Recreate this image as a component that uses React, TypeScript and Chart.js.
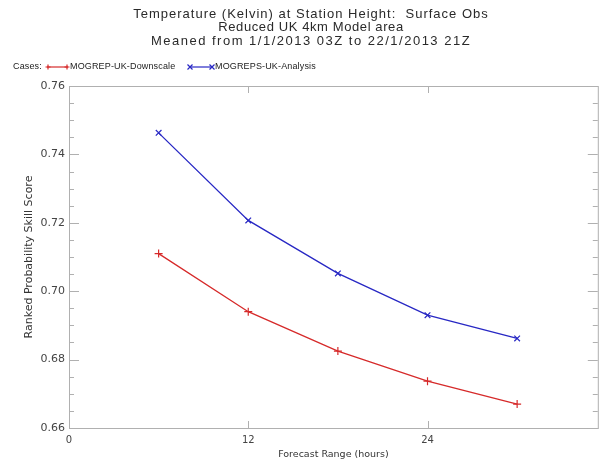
import React, { useEffect, useRef } from "react";
import { Chart, registerables } from "chart.js";

Chart.register(...registerables);

const forecastHours = [6, 12, 18, 24, 30];
const downscaleScores = [0.711, 0.694, 0.6825, 0.6737, 0.667];
const analysisScores = [0.7463, 0.7207, 0.7052, 0.693, 0.6862];
const seriesNames = ["MOGREP-UK-Downscale", "MOGREPS-UK-Analysis"];
const titleLines = [
  "Temperature (Kelvin) at Station Height:  Surface Obs",
  "Reduced UK 4km Model area",
  "Meaned from 1/1/2013 03Z to 22/1/2013 21Z",
];
const yTickValues = [0.66, 0.68, 0.7, 0.72, 0.74, 0.76];
const xTickValues = [0, 12, 24];

const RED = "rgb(214, 42, 42)";
const BLUE = "rgb(40, 40, 196)";
const FONT = "'Liberation Sans', Arial, sans-serif";
const WIDE = "'DejaVu Sans', sans-serif";

function drawMarker(ctx: CanvasRenderingContext2D, x: number, y: number, r: number, rot: boolean) {
  ctx.beginPath();
  if (rot) {
    ctx.moveTo(x - r, y - r);
    ctx.lineTo(x + r, y + r);
    ctx.moveTo(x - r, y + r);
    ctx.lineTo(x + r, y - r);
  } else {
    ctx.moveTo(x - r, y);
    ctx.lineTo(x + r, y);
    ctx.moveTo(x, y - r);
    ctx.lineTo(x, y + r);
  }
  ctx.stroke();
}

const decorPlugin = {
  id: "decor",
  afterDraw(chart: any) {
    const { ctx, chartArea: a, scales } = chart;
    ctx.save();
    // frame
    ctx.strokeStyle = "#b0b0b0";
    ctx.lineWidth = 1;
    ctx.strokeRect(a.left + 0.5, a.top + 0.5, a.right - a.left, a.bottom - a.top);
    // y ticks (major + minor), inward on left and right
    const ys = scales.y;
    const steps = Math.round((ys.max - ys.min) / 0.005);
    for (let i = 0; i <= steps; i++) {
      const v = ys.min + i * 0.005;
      const p = Math.round(ys.getPixelForValue(v)) + 0.5;
      const len = i % 4 === 0 ? 10 : 5;
      ctx.beginPath();
      ctx.moveTo(a.left, p);
      ctx.lineTo(a.left + len, p);
      ctx.moveTo(a.right, p);
      ctx.lineTo(a.right - len, p);
      ctx.stroke();
    }
    // x ticks inward top & bottom
    const xs = scales.x;
    for (const v of xTickValues) {
      const p = Math.round(xs.getPixelForValue(v)) + 0.5;
      ctx.beginPath();
      ctx.moveTo(p, a.bottom);
      ctx.lineTo(p, a.bottom - 7);
      ctx.moveTo(p, a.top);
      ctx.lineTo(p, a.top + 7);
      ctx.stroke();
    }
    // title
    ctx.fillStyle = "#2a2a2a";
    ctx.font = `13px ${FONT}`;
    ctx.textAlign = "center";
    ctx.textBaseline = "middle";
    const tY = [14, 27.5, 41];
    const spacing = ["1px", "0.6px", "1.5px"];
    titleLines.forEach((t, i) => {
      (ctx as any).letterSpacing = spacing[i];
      ctx.fillText(t, 311, tY[i]);
    });
    // legend
    const ly = 67;
    (ctx as any).letterSpacing = "0.15px";
    ctx.font = `9px ${FONT}`;
    ctx.textAlign = "left";
    ctx.fillStyle = "#222";
    ctx.fillText("Cases:", 13, ly);
    ctx.lineWidth = 1.2;
    ctx.strokeStyle = RED;
    ctx.beginPath();
    ctx.moveTo(47, ly);
    ctx.lineTo(68, ly);
    ctx.stroke();
    drawMarker(ctx, 48, ly, 2.5, false);
    drawMarker(ctx, 67, ly, 2.5, false);
    ctx.fillText(seriesNames[0], 70, ly);
    ctx.strokeStyle = BLUE;
    ctx.beginPath();
    ctx.moveTo(189, ly);
    ctx.lineTo(213, ly);
    ctx.stroke();
    drawMarker(ctx, 190, ly, 2.5, true);
    drawMarker(ctx, 212, ly, 2.5, true);
    ctx.fillText(seriesNames[1], 215, ly);
    ctx.restore();
  },
};

export default function App() {
  const ref = useRef<HTMLCanvasElement | null>(null);
  useEffect(() => {
    if (!ref.current) return;
    const chart = new Chart(ref.current, {
      type: "line",
      data: {
        datasets: [
          {
            label: seriesNames[0],
            data: forecastHours.map((x, i) => ({ x, y: downscaleScores[i] })),
            borderColor: RED,
            backgroundColor: RED,
            borderWidth: 1.3,
            pointStyle: "cross",
            pointRadius: 4,
            pointBorderWidth: 1.2,
            tension: 0,
          },
          {
            label: seriesNames[1],
            data: forecastHours.map((x, i) => ({ x, y: analysisScores[i] })),
            borderColor: BLUE,
            backgroundColor: BLUE,
            borderWidth: 1.3,
            pointStyle: "crossRot",
            pointRadius: 4,
            pointBorderWidth: 1.2,
            tension: 0,
          },
        ],
      },
      options: {
        animation: false,
        responsive: false,
        layout: { padding: { top: 86, right: 5, left: 0, bottom: 0 } },
        plugins: {
          legend: { display: false },
          title: { display: false },
          tooltip: { enabled: false },
        },
        scales: {
          x: {
            type: "linear",
            min: 0,
            max: 35.4,
            grid: { display: false, drawTicks: false },
            border: { display: false },
            afterBuildTicks: (s: any) => {
              s.ticks = xTickValues.map((v) => ({ value: v }));
            },
            afterFit: (s: any) => {
              s.height = 33;
            },
            ticks: {
              padding: 6,
              color: "#444",
              font: { family: WIDE, size: 10 },
              callback: (v: any) => String(v),
            },
            title: {
              display: true,
              text: "Forecast Range (hours)",
              color: "#333",
              font: { family: WIDE, size: 9.5 },
              padding: { top: 0, bottom: 1 },
            },
          },
          y: {
            min: 0.66,
            max: 0.76,
            grid: { display: false, drawTicks: false },
            border: { display: false },
            afterBuildTicks: (s: any) => {
              s.ticks = yTickValues.map((v) => ({ value: v }));
            },
            afterFit: (s: any) => {
              s.width = 69;
            },
            ticks: {
              padding: 4,
              color: "#444",
              font: { family: WIDE, size: 11 },
              callback: (v: any) => Number(v).toFixed(2),
            },
            title: {
              display: true,
              text: "Ranked Probability Skill Score",
              color: "#333",
              font: { family: WIDE, size: 11 },
              padding: { top: 23, bottom: 0 },
            },
          },
        },
      },
      plugins: [decorPlugin],
    } as any);
    return () => chart.destroy();
  }, []);
  return (
    <div style={{ position: "absolute", left: 0, top: 0, width: 603, height: 461, background: "#fff" }}>
      <canvas ref={ref} width={603} height={461} style={{ display: "block" }} />
    </div>
  );
}
